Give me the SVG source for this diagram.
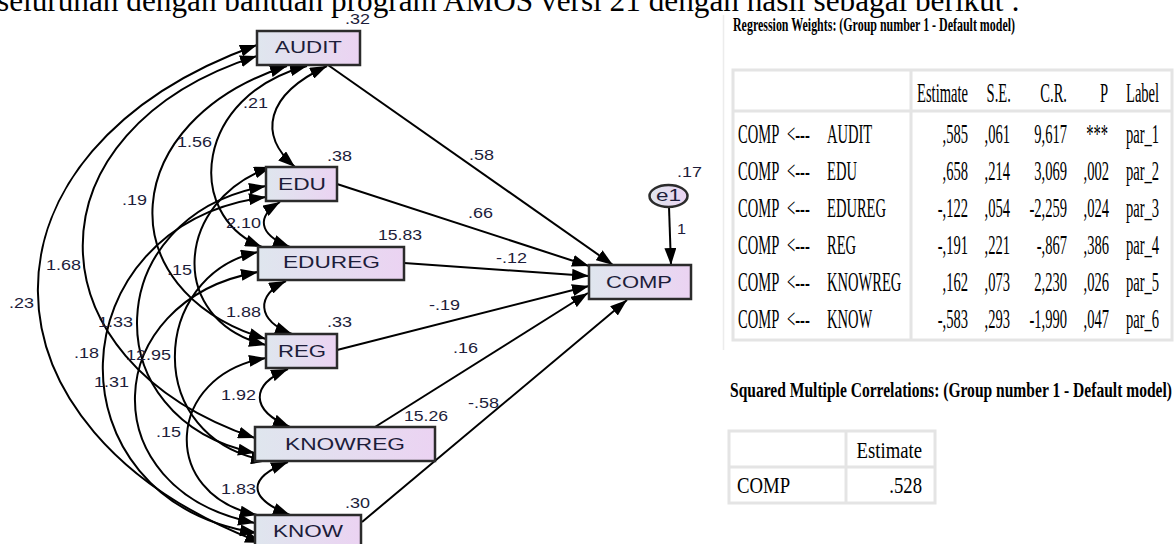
<svg xmlns="http://www.w3.org/2000/svg" width="1176" height="544" viewBox="0 0 1176 544">
<defs>
<linearGradient id="nf" x1="0" y1="0" x2="1" y2="0"><stop offset="0" stop-color="#dfe6ee"/><stop offset="1" stop-color="#ebd3f2"/></linearGradient>
<marker id="ah" markerUnits="userSpaceOnUse" markerWidth="17" markerHeight="12" refX="17" refY="6" orient="auto-start-reverse"><path d="M0,0 L17,6 L0,12 z" fill="#000"/></marker>
</defs>
<style>
.nd{fill:url(#nf);stroke:#2b2b2b;stroke-width:2.5}
.nt{font-family:"Liberation Sans",Arial,sans-serif;font-size:16px;fill:#1d1d3a}
.lb{font-family:"Liberation Sans",Arial,sans-serif;font-size:14px;fill:#1d1d3a}
.ln{fill:none;stroke:#000;stroke-width:2;marker-end:url(#ah)}
.cv{fill:none;stroke:#000;stroke-width:2;marker-start:url(#ah);marker-end:url(#ah)}
.tt{font-family:"Liberation Serif","Times New Roman",serif;fill:#000}
.tb{fill:none;stroke:#e4e4e4;stroke-width:3}
</style>
<rect width="1176" height="544" fill="#fff"/>
<text class="tt" x="-3" y="11" font-size="31" textLength="1023" lengthAdjust="spacingAndGlyphs">seluruhan dengan bantuan program AMOS versi 21 dengan hasil sebagai berikut :</text>

<g id="connectors">
<path class="cv" d="M257,45 C-36,150 -36,430 262,543"/>
<path class="cv" d="M257,56 C25,130 25,360 255,438"/>
<path class="cv" d="M287,66 C118,120 105,290 266,339"/>
<path class="cv" d="M307,66 C195,95 183,215 262,247"/>
<path class="cv" d="M327,66 C265,95 258,135 295,167"/>
<path class="cv" d="M280,202 C257,216 257,234 290,247"/>
<path class="cv" d="M286,281 C256,295 256,320 292,334"/>
<path class="cv" d="M288,369 C250,385 250,410 290,427"/>
<path class="cv" d="M288,462 C247,478 247,498 290,515"/>
<path class="cv" d="M271,167 C175,200 165,320 266,345"/>
<path class="cv" d="M266,186 C100,215 92,420 255,453"/>
<path class="cv" d="M266,197 C55,225 45,500 257,533"/>
<path class="cv" d="M258,252 C150,275 141,440 268,461"/>
<path class="cv" d="M258,272 C100,300 89,490 255,523"/>
<path class="cv" d="M266,358 C165,375 159,495 257,515"/>
<path class="ln" d="M328,65 L613,265"/>
<path class="ln" d="M337,184 L589,266"/>
<path class="ln" d="M404,263 L589,276"/>
<path class="ln" d="M337,350 L589,286"/>
<path class="ln" d="M375,427 L588,293"/>
<path class="ln" d="M362,522 L627,300"/>
<path class="ln" d="M669,207 L671,265"/>
</g>

<g id="labels">
<text class="lb" x="243" y="108" textLength="25" lengthAdjust="spacingAndGlyphs">.21</text>
<text class="lb" x="177" y="147" textLength="35" lengthAdjust="spacingAndGlyphs">1.56</text>
<text class="lb" x="122" y="205" textLength="25" lengthAdjust="spacingAndGlyphs">.19</text>
<text class="lb" x="46" y="270" textLength="35" lengthAdjust="spacingAndGlyphs">1.68</text>
<text class="lb" x="9" y="308" textLength="25" lengthAdjust="spacingAndGlyphs">.23</text>
<text class="lb" x="226" y="228" textLength="35" lengthAdjust="spacingAndGlyphs">2.10</text>
<text class="lb" x="167" y="275" textLength="25" lengthAdjust="spacingAndGlyphs">.15</text>
<text class="lb" x="226" y="317" textLength="35" lengthAdjust="spacingAndGlyphs">1.88</text>
<text class="lb" x="98" y="327" textLength="35" lengthAdjust="spacingAndGlyphs">1.33</text>
<text class="lb" x="74" y="358" textLength="25" lengthAdjust="spacingAndGlyphs">.18</text>
<text class="lb" x="126" y="360" textLength="45" lengthAdjust="spacingAndGlyphs">12.95</text>
<text class="lb" x="94" y="387" textLength="35" lengthAdjust="spacingAndGlyphs">1.31</text>
<text class="lb" x="221" y="400" textLength="35" lengthAdjust="spacingAndGlyphs">1.92</text>
<text class="lb" x="156" y="437" textLength="25" lengthAdjust="spacingAndGlyphs">.15</text>
<text class="lb" x="221" y="494" textLength="35" lengthAdjust="spacingAndGlyphs">1.83</text>
<text class="lb" x="345" y="24" textLength="25" lengthAdjust="spacingAndGlyphs">.32</text>
<text class="lb" x="327" y="161" textLength="25" lengthAdjust="spacingAndGlyphs">.38</text>
<text class="lb" x="378" y="240" textLength="44" lengthAdjust="spacingAndGlyphs">15.83</text>
<text class="lb" x="327" y="327" textLength="25" lengthAdjust="spacingAndGlyphs">.33</text>
<text class="lb" x="404" y="421" textLength="44" lengthAdjust="spacingAndGlyphs">15.26</text>
<text class="lb" x="345" y="508" textLength="25" lengthAdjust="spacingAndGlyphs">.30</text>
<text class="lb" x="677" y="177" textLength="25" lengthAdjust="spacingAndGlyphs">.17</text>
<text class="lb" x="677" y="234" textLength="9" lengthAdjust="spacingAndGlyphs">1</text>
<text class="lb" x="469" y="160" textLength="25" lengthAdjust="spacingAndGlyphs">.58</text>
<text class="lb" x="468" y="218" textLength="25" lengthAdjust="spacingAndGlyphs">.66</text>
<text class="lb" x="496" y="263" textLength="31" lengthAdjust="spacingAndGlyphs">-.12</text>
<text class="lb" x="429" y="310" textLength="31" lengthAdjust="spacingAndGlyphs">-.19</text>
<text class="lb" x="453" y="353" textLength="25" lengthAdjust="spacingAndGlyphs">.16</text>
<text class="lb" x="468" y="408" textLength="31" lengthAdjust="spacingAndGlyphs">-.58</text>
</g>

<g id="AUDIT"><rect class="nd" x="257" y="31" width="103" height="34"/><text class="nt" x="275" y="53" textLength="67" lengthAdjust="spacingAndGlyphs">AUDIT</text></g>
<g id="EDU"><rect class="nd" x="266" y="167" width="71" height="34"/><text class="nt" x="278" y="190" textLength="48" lengthAdjust="spacingAndGlyphs">EDU</text></g>
<g id="EDUREG"><rect class="nd" x="258" y="247" width="146" height="33"/><text class="nt" x="283" y="268" textLength="97" lengthAdjust="spacingAndGlyphs">EDUREG</text></g>
<g id="REG"><rect class="nd" x="266" y="334" width="71" height="34"/><text class="nt" x="278" y="357" textLength="48" lengthAdjust="spacingAndGlyphs">REG</text></g>
<g id="KNOWREG"><rect class="nd" x="255" y="427" width="180" height="34"/><text class="nt" x="285" y="450" textLength="120" lengthAdjust="spacingAndGlyphs">KNOWREG</text></g>
<g id="KNOW"><rect class="nd" x="255" y="515" width="106" height="33"/><text class="nt" x="273" y="537" textLength="70" lengthAdjust="spacingAndGlyphs">KNOW</text></g>
<g id="COMP"><rect class="nd" x="589" y="265" width="102" height="34"/><text class="nt" x="606" y="288" textLength="66" lengthAdjust="spacingAndGlyphs">COMP</text></g>
<g id="e1"><ellipse class="nd" cx="668.5" cy="196" rx="19" ry="11"/><text class="nt" x="656" y="201" font-size="15" textLength="25" lengthAdjust="spacingAndGlyphs">e1</text></g>

<g id="regression-table">
<line x1="723.5" y1="15" x2="723.5" y2="350" stroke="#ececec" stroke-width="1.5"/>
<text class="tt" x="733" y="31" font-size="18" font-weight="bold" textLength="282" lengthAdjust="spacingAndGlyphs">Regression Weights: (Group number 1 - Default model)</text>
<rect class="tb" x="733" y="70" width="439" height="270"/>
<line class="tb" x1="911" y1="70" x2="911" y2="340"/>
<line class="tb" x1="733" y1="111" x2="1172" y2="111"/>
<g class="tt" font-size="28" transform="matrix(0.52,0,0,1,0,0)">
<g text-anchor="end">
<text x="1861.5" y="102">Estimate</text><text x="1944" y="102">S.E.</text><text x="2051.9" y="102">C.R.</text><text x="2130.8" y="102">P</text>
</g>
<text x="2165.4" y="102">Label</text>
<g>
<text x="1419.2" y="143">COMP</text><text x="1419.2" y="180">COMP</text><text x="1419.2" y="217">COMP</text><text x="1419.2" y="254">COMP</text><text x="1419.2" y="291">COMP</text><text x="1419.2" y="328">COMP</text>
<text x="1513.5" y="143">&lt;---</text><text x="1513.5" y="180">&lt;---</text><text x="1513.5" y="217">&lt;---</text><text x="1513.5" y="254">&lt;---</text><text x="1513.5" y="291">&lt;---</text><text x="1513.5" y="328">&lt;---</text>
<text x="1590.4" y="143">AUDIT</text><text x="1590.4" y="180">EDU</text><text x="1590.4" y="217">EDUREG</text><text x="1590.4" y="254">REG</text><text x="1590.4" y="291">KNOWREG</text><text x="1590.4" y="328">KNOW</text>
<text x="2165.4" y="143">par_1</text><text x="2165.4" y="180">par_2</text><text x="2165.4" y="217">par_3</text><text x="2165.4" y="254">par_4</text><text x="2165.4" y="291">par_5</text><text x="2165.4" y="328">par_6</text>
</g>
<g text-anchor="end">
<text x="1861.5" y="143">,585</text><text x="1942.3" y="143">,061</text><text x="2051.9" y="143">9,617</text><text x="2130.8" y="143">***</text>
<text x="1861.5" y="180">,658</text><text x="1942.3" y="180">,214</text><text x="2051.9" y="180">3,069</text><text x="2132.7" y="180">,002</text>
<text x="1861.5" y="217">-,122</text><text x="1942.3" y="217">,054</text><text x="2051.9" y="217">-2,259</text><text x="2132.7" y="217">,024</text>
<text x="1861.5" y="254">-,191</text><text x="1942.3" y="254">,221</text><text x="2051.9" y="254">-,867</text><text x="2132.7" y="254">,386</text>
<text x="1861.5" y="291">,162</text><text x="1942.3" y="291">,073</text><text x="2051.9" y="291">2,230</text><text x="2132.7" y="291">,026</text>
<text x="1861.5" y="328">-,583</text><text x="1942.3" y="328">,293</text><text x="2051.9" y="328">-1,990</text><text x="2132.7" y="328">,047</text>
</g>
</g>
</g>

<g id="smc-table">
<text class="tt" x="730" y="397" font-size="21" font-weight="bold" textLength="442" lengthAdjust="spacingAndGlyphs">Squared Multiple Correlations: (Group number 1 - Default model)</text>
<rect class="tb" x="729" y="431" width="206" height="72"/>
<line class="tb" x1="846" y1="431" x2="846" y2="503"/>
<line class="tb" x1="729" y1="467" x2="935" y2="467"/>
<g class="tt" font-size="24" transform="matrix(0.78,0,0,1,0,0)">
<text x="1182.1" y="458" text-anchor="end">Estimate</text>
<text x="944.9" y="493">COMP</text>
<text x="1182.1" y="493" text-anchor="end">.528</text>
</g>
</g>
</svg>
